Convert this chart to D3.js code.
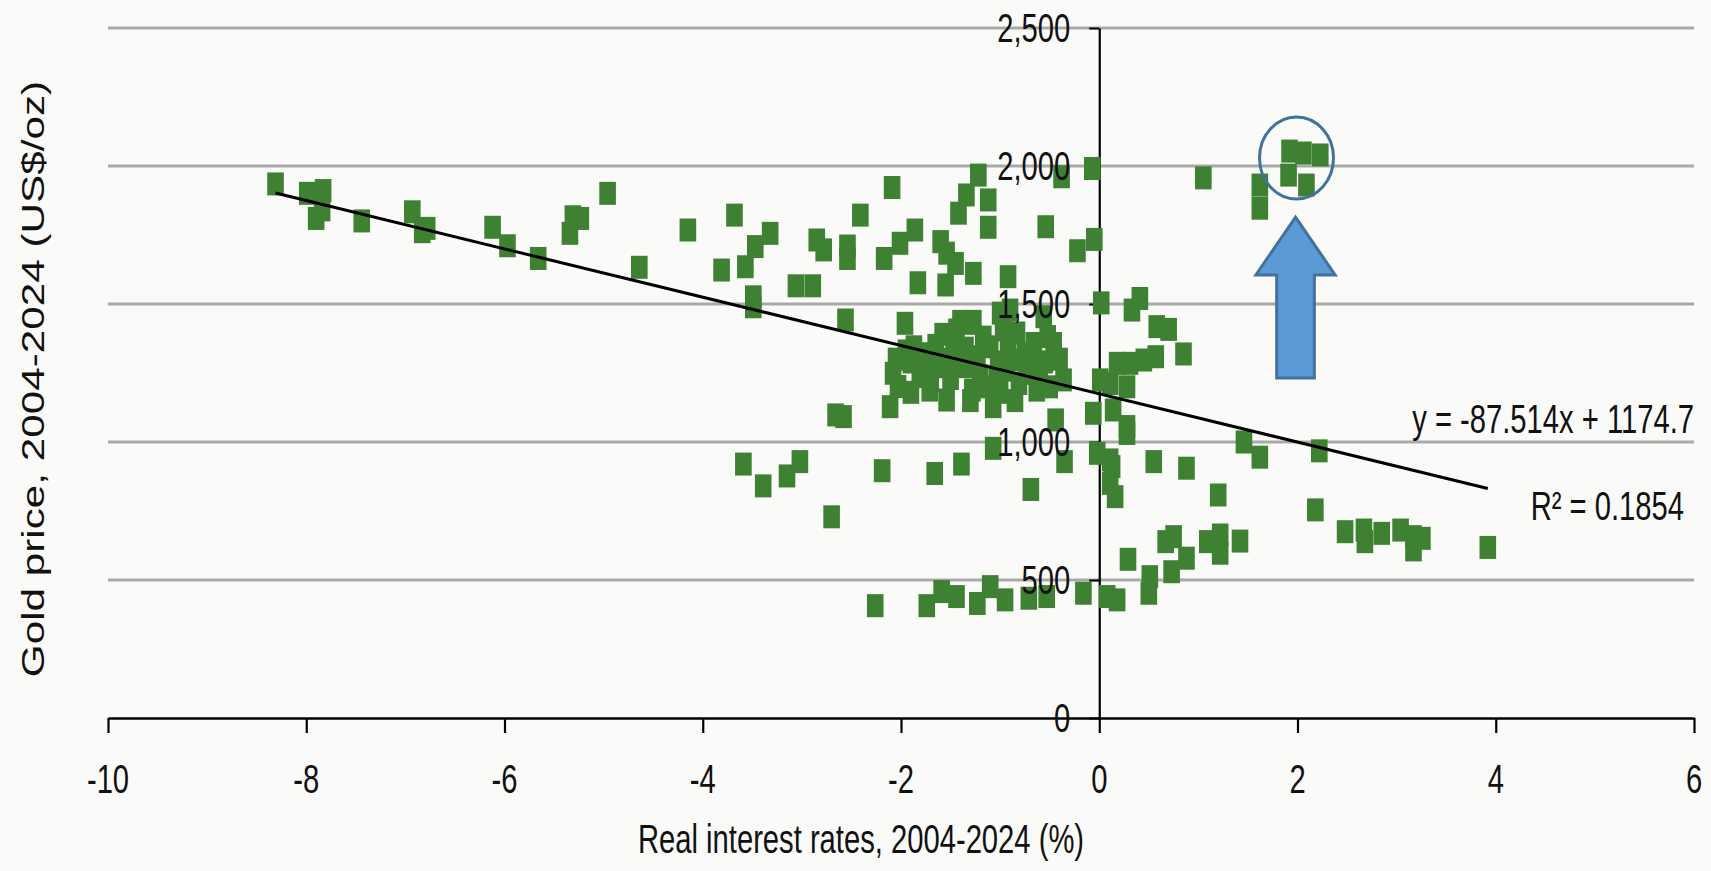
<!DOCTYPE html>
<html><head><meta charset="utf-8">
<script src="https://cdn.jsdelivr.net/npm/d3@7"></script>
<style>html,body{margin:0;padding:0;background:#fafaf8;overflow:hidden}</style>
</head><body><svg id="c" width="1711" height="871"></svg>
<script>
// ---------- data ----------
const xTicks = [-10, -8, -6, -4, -2, 0, 2, 4, 6];
const yTicks = [0, 500, 1000, 1500, 2000, 2500];
const xTickLabels = ["-10", "-8", "-6", "-4", "-2", "0", "2", "4", "6"];
const yTickLabels = ["0", "500", "1,000", "1,500", "2,000", "2,500"];
const realRates = [
 -8.31,-7.99,-7.83,-7.90,-7.84,-7.44,-6.93,-6.78,-6.83,-6.12,-5.97,-5.66,-5.23,-5.34,-5.31,-4.96,-4.64,-4.15,
 -3.68,-3.81,-3.57,-3.47,-3.32,-3.49,-3.49,-3.06,-2.89,-2.85,-2.78,-2.54,-2.54,-2.41,-2.56,-2.09,-2.17,-2.01,
 -1.86,-1.83,-1.96,-1.60,-1.54,-1.45,-1.55,-1.27,-1.42,-1.34,-1.22,-1.12,-1.12,-1.40,-1.27,-0.92,-1.00,
 -0.38,-0.07,-0.05,-0.22,-0.54,0.02,
 1.05,1.62,1.62,1.92,2.06,2.23,1.91,2.09,
 0.33,0.41,0.58,0.70,0.85,0.57,0.45,0.18,0.31,0.01,0.28,0.11,-0.06,0.14,0.28,
 1.46,1.62,2.22,-0.02,0.11,0.55,0.88,0.28,0.13,0.11,0.16,1.20,2.18,
 2.48,2.67,2.68,2.85,3.04,3.17,3.26,3.17,3.92,
 0.29,0.51,0.50,0.67,0.75,0.73,0.88,1.09,1.22,1.22,1.42,-0.16,0.08,0.18,
 -2.58,-2.66,-1.87,-2.08,-2.11,-2.03,-1.81,-1.71,-1.54,-1.44,-1.30,-1.47,-1.64,-1.34,-1.23,-1.28,-1.07,-1.03,
 -1.10,-0.97,-0.90,-0.81,-0.86,-0.66,-0.56,-0.73,-0.63,-0.46,-0.36,-0.44,-1.07,-0.83,-0.52,
 -1.90,-1.75,-1.58,-1.17,-1.00,-0.55,-0.40,-1.20,-1.50,-0.92,
 -1.95,-1.80,-1.65,-1.55,-1.35,-1.15,-0.95,-0.75,-0.60,-0.50,-0.85,-1.30,-1.90,-2.05,-1.70,-1.40,-1.02,-0.68,
 -3.59,-3.39,-3.15,-3.02,-2.70,-2.19,-1.66,-1.39,-0.69,-0.35,
 -2.26,-1.74,-1.59,-1.44,-1.23,-1.10,-0.95,-0.71,-0.53
];
const goldPrices = [
 1935,1901,1911,1810,1841,1801,1834,1774,1762,1778,1711,1665,1810,1756,1816,1901,1633,1768,
 1822,1623,1635,1708,1756,1526,1490,1566,1566,1732,1696,1710,1665,1822,1442,1922,1665,1720,
 1768,1577,1430,1726,1684,1647,1569,1611,1829,1895,1967,1877,1778,1437,1437,1599,1467,
 1961,1991,1734,1693,1780,1504,
 1957,1931,1847,2054,2047,2040,1967,1931,
 1478,1520,1418,1408,1319,1309,1297,1285,1285,1225,1200,1212,1104,1116,1056,
 1000,945,968,959,935,929,905,1031,911,850,802,808,754,
 675,681,639,669,681,657,651,609,618,
 575,512,452,639,657,530,579,639,663,597,641,452,440,428,
 1092,1098,1345,1249,1128,1201,1237,1188,1152,1406,1430,1333,1273,1273,1309,1188,1128,1237,
 1345,1406,1478,1212,1297,1357,1454,1249,1188,1357,1225,1080,977,1395,1382,
 1290,1320,1390,1380,1180,1290,1300,1240,1230,1340,
 1330,1280,1350,1300,1340,1200,1260,1320,1240,1200,1150,1150,1180,1300,1220,1300,1290,1290,
 920,841,877,929,729,896,886,920,828,929,
 407,407,458,440,415,476,428,434,440
];
const fitSlope = -87.514;
const fitIntercept = 1174.7;
const eqLabel = "y = -87.514x + 1174.7";
const r2Label = "R\u00B2 = 0.1854";
const xTitle = "Real interest rates, 2004-2024 (%)";
const yTitle = "Gold price, 2004-2024 (US$/oz)";
// highlighted recent cluster (data units) and the arrow pointing at it
const highlight = { x: 1.99, y: 2029 };
const arrowSpec = { x: 1.98, tip: 1815, headBase: 1605, bottom: 1232, headHalf: 0.40, shaftHalf: 0.19 };

// ---------- drawing ----------
const svg = d3.select("#c");
const FONT = "'Liberation Sans', Arial, Helvetica, sans-serif";
const SQ = 0.73; // horizontal compression of the (vertically stretched) original type
const x = d3.scaleLinear().domain([-10, 6]).range([108, 1694]);
const y = d3.scaleLinear().domain([0, 2500]).range([718, 28]);

svg.append("rect").attr("width", 1711).attr("height", 871).attr("fill", "#fafaf8");

// text helper: anchored text compressed horizontally via transform
function label(parent, px, py, txt, opts) {
  const o = Object.assign({ size: 40, anchor: "middle", sx: SQ, sy: 1, rotate: 0 }, opts || {});
  return parent.append("text")
    .attr("transform", `translate(${px},${py}) rotate(${o.rotate}) scale(${o.sx},${o.sy})`)
    .attr("text-anchor", o.anchor)
    .attr("font-family", FONT).attr("font-size", o.size).attr("fill", "#111")
    .text(txt);
}

// gridlines
svg.append("g").selectAll("line").data(yTicks.filter(d => d > 0)).join("line")
  .attr("x1", x(-10)).attr("x2", x(6))
  .attr("y1", d => y(d)).attr("y2", d => y(d))
  .attr("stroke", "#a9a9a9").attr("stroke-width", 3.2);

// axes (lines and ticks from the library, labels added separately)
const gx = svg.append("g").attr("transform", `translate(0,${y(0)})`)
  .call(d3.axisBottom(x).tickValues(xTicks).tickSize(15).tickSizeOuter(0).tickFormat(""));
gx.select(".domain").attr("stroke", "#000").attr("stroke-width", 2.6);
gx.selectAll(".tick line").attr("stroke", "#000").attr("stroke-width", 2.2);

const gy = svg.append("g").attr("transform", `translate(${x(0)},0)`)
  .call(d3.axisLeft(y).tickValues(yTicks).tickSize(10).tickSizeOuter(0).tickFormat(""));
gy.select(".domain").attr("stroke", "#000").attr("stroke-width", 2.2);
gy.selectAll(".tick line").attr("stroke", "#000").attr("stroke-width", 2);

// markers
const pts = realRates.map((r, i) => ({ r, p: goldPrices[i] }));
svg.append("g").selectAll("rect").data(pts).join("rect")
  .attr("x", d => x(d.r) - 8.3).attr("y", d => y(d.p) - 11.5)
  .attr("width", 16.6).attr("height", 23)
  .attr("fill", "#3e8133");

// trend line
const ext = d3.extent(realRates);
svg.append("line")
  .attr("x1", x(ext[0])).attr("y1", y(fitSlope * ext[0] + fitIntercept))
  .attr("x2", x(ext[1])).attr("y2", y(fitSlope * ext[1] + fitIntercept))
  .attr("stroke", "#000").attr("stroke-width", 3);

// tick labels (on top of markers, as in the reference)
const labels = svg.append("g");
xTicks.forEach((t, i) => label(labels, x(t), y(0) + 75, xTickLabels[i], { anchor: "middle" }));
yTicks.forEach((t, i) => label(labels, x(0) - 29, y(t) + 14, yTickLabels[i], { anchor: "end" }));

// circle highlight
svg.append("ellipse")
  .attr("cx", x(highlight.x)).attr("cy", y(highlight.y)).attr("rx", 37).attr("ry", 41)
  .attr("fill", "none").attr("stroke", "#41719c").attr("stroke-width", 3);

// arrow
const ax = x(arrowSpec.x);
const hh = x(arrowSpec.x + arrowSpec.headHalf) - ax;
const sh = x(arrowSpec.x + arrowSpec.shaftHalf) - ax;
const yb = y(arrowSpec.headBase), yt = y(arrowSpec.tip), ybo = y(arrowSpec.bottom);
svg.append("path")
  .attr("d", `M${ax},${yt} L${ax + hh},${yb} L${ax + sh},${yb} L${ax + sh},${ybo} L${ax - sh},${ybo} L${ax - sh},${yb} L${ax - hh},${yb} Z`)
  .attr("fill", "#5b9bd5").attr("stroke", "#41719c").attr("stroke-width", 3).attr("stroke-linejoin", "miter");

// equation + R2
label(svg, 1694, 433, eqLabel, { anchor: "end" });
label(svg, 1684, 520, r2Label, { anchor: "end" });

// axis titles
label(svg, 861, 853, xTitle, { anchor: "middle" });
label(svg, 44, 379, yTitle, { anchor: "middle", size: 32, rotate: -90, sx: 1.32, sy: 1 });
</script></body></html>
